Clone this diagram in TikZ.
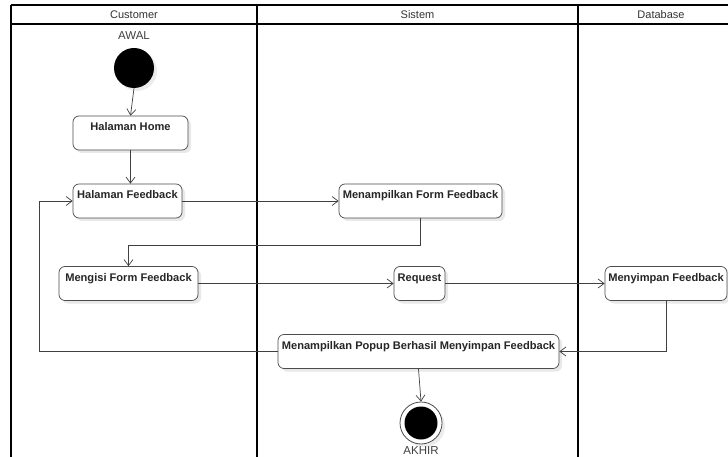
\documentclass[tikz,border=0pt]{standalone}
\usepackage{fontspec}
\setmainfont{Liberation Sans}
\usetikzlibrary{arrows.meta,shadows}
\begin{document}
\begin{tikzpicture}[x=1pt,y=-1pt,
  lane/.style={line width=1.3pt,black},
  lanetitle/.style={font=\fontsize{11}{13}\selectfont,text=black!80},
  act/.style={draw=black!70,fill=white,rounded corners=6pt,line width=0.7pt,
    font=\fontsize{11.1}{13}\selectfont\bfseries,text=black!85,
    inner xsep=2pt,inner ysep=0pt,text height=15pt,text depth=19pt,
    drop shadow={opacity=0.18,shadow xshift=3pt,shadow yshift=-3pt}},
  flow/.style={draw=black!75,line width=0.7pt,-{Straight Barb[length=6pt,width=9pt]}},
  note/.style={font=\fontsize{11.5}{13}\selectfont,text=black!75}]
\useasboundingbox (0,0) rectangle (728,457);
\begin{scope}
\clip (0,0) rectangle (728,457);
\fill[white] (0,0) rectangle (728,457);
% swimlanes
\draw[lane] (11,5) -- (760,5);
\draw[lane] (11,24) -- (760,24);
\draw[lane] (11,5) -- (11,470);
\draw[lane] (257,5) -- (257,470);
\draw[lane] (578,5) -- (578,470);
\node[lanetitle] (hcust) at (134,14.5) {Customer};
\node[lanetitle] (hsis) at (417.5,14.5) {Sistem};
\node[lanetitle] (hdb) at (661,14.5) {Database};

% start and end points
\node[note] (awal) at (134,36) {AWAL};
\node[circle,fill=black,minimum size=40pt,inner sep=0pt,
  drop shadow={opacity=0.15,shadow xshift=3pt,shadow yshift=-3pt}] (start) at (134,68) {};
\node[circle,draw=black!70,fill=white,line width=0.8pt,minimum size=42pt,inner sep=0pt,
  drop shadow={opacity=0.15,shadow xshift=3pt,shadow yshift=-3pt}] (end) at (421,423) {};
\node[circle,fill=black,minimum size=33pt,inner sep=0pt] (endin) at (end) {};
\node[note] (akhir) at (421,451) {AKHIR};

% activities
\node[act,minimum width=115pt] (home) at (130.5,133) {Halaman Home};
\node[act,minimum width=109pt] (hf) at (127.5,201) {Halaman Feedback};
\node[act,minimum width=163pt] (mff) at (420.5,201) {Menampilkan Form Feedback};
\node[act,minimum width=139pt] (isi) at (128.5,283.5) {Mengisi Form Feedback};
\node[act,minimum width=51pt] (req) at (419.5,283.5) {Request};
\node[act,minimum width=122pt] (simpan) at (666,283.5) {Menyimpan Feedback};
\node[act,minimum width=281pt] (popup) at (418.5,351.5) {Menampilkan Popup Berhasil Menyimpan Feedback};
\coordinate (back) at (39,0);

% flows
\draw[flow] (start.south) -- (home.north);
\draw[flow] (home.south) -- (home.south |- hf.north);
\draw[flow] (hf.east) -- (mff.west);
\draw[flow] (mff.south) -- ++(0,27) -| (isi.north);
\draw[flow] (isi.east) -- (req.west);
\draw[flow] (req.east) -- (simpan.west);
\draw[flow] (simpan.south) |- (popup.east);
\draw[flow] (popup.west) -- (popup.west -| back) |- (hf.west);
\draw[flow] (popup.south) -- (end.north);
\end{scope}
\end{tikzpicture}
\end{document}
